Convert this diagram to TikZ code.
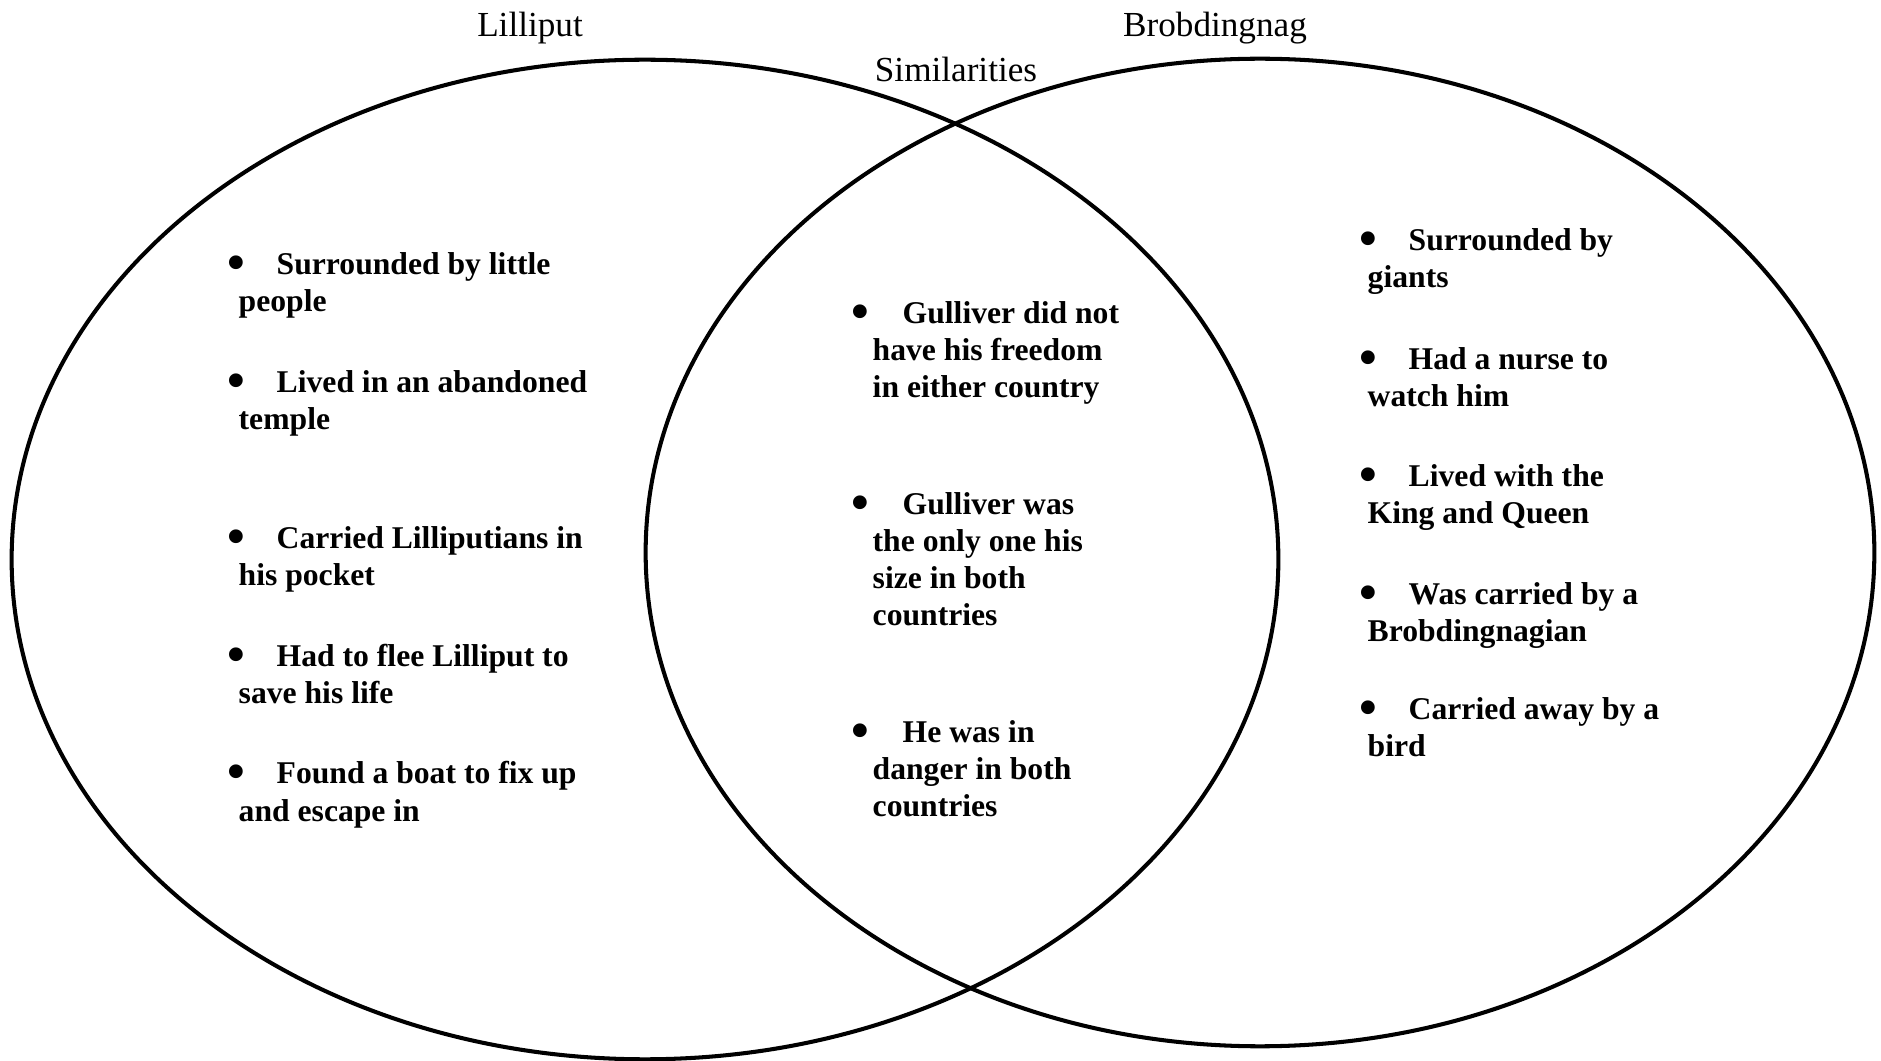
\documentclass[tikz,border=0pt]{standalone}
\usepackage{fontspec}
\setmainfont{Liberation Serif}
\usetikzlibrary{positioning}

% bullet mark, a bit larger than the text one
\newcommand{\bulglyph}{\raisebox{-1.2pt}{\scalebox{1.6}{\textbullet}}}
% #1 = bullet centre, #2 = text start (both from the left edge of the node)
\newcommand{\itm}[2]{\makebox[0pt][l]{\hspace*{#1}\makebox[0pt]{\bulglyph}}\hspace*{#2}}

\begin{document}
\begin{tikzpicture}[x=0.01cm, y=-0.01cm,
    entry/.style={anchor=base west, inner sep=0pt, align=left,
        font=\fontsize{9}{10.53}\selectfont\bfseries},
    heading/.style={anchor=base, inner sep=0pt, font=\fontsize{10}{12}\selectfont}]
\useasboundingbox (0,0) rectangle (1881,1061);

% the two sets
\draw[line width=1.15pt] (645,559.5) ellipse [x radius=6.33cm, y radius=4.995cm];
\draw[line width=1.15pt] (1260,552.5) ellipse [x radius=6.14cm, y radius=4.935cm];

\node[heading] (lil) at (530,37) {Lilliput};
\node[heading] (brob) at (1215,37) {Brobdingnag};
\node[heading] (sim) at (956,82) {Similarities};

% Lilliput only (positions = baseline of last line)
\node[entry] (l1) at (238,312) {\itm{-0.02cm}{0.38cm}Surrounded by little\\people};
\node[entry] (l2) at (238,430) {\itm{-0.02cm}{0.38cm}Lived in an abandoned\\temple};
\node[entry] (l3) at (238,586) {\itm{-0.02cm}{0.38cm}Carried Lilliputians in\\his pocket};
\node[entry] (l4) at (238,704) {\itm{-0.02cm}{0.38cm}Had to flee Lilliput to\\save his life};
\node[entry] (l5) at (238,821) {\itm{-0.02cm}{0.38cm}Found a boat to fix up\\and escape in};

% both
\node[entry] (s1) at (872,398) {\itm{-0.12cm}{0.30cm}Gulliver did not\\have his freedom\\in either country};
\node[entry] (s2) at (872,626) {\itm{-0.12cm}{0.30cm}Gulliver was\\the only one his\\size in both\\countries};
\node[entry] (s3) at (872,817) {\itm{-0.12cm}{0.30cm}He was in\\danger in both\\countries};

% Brobdingnag only
\node[entry] (b1) at (1367,288) {\itm{0.01cm}{0.41cm}Surrounded by\\giants};
\node[entry] (b2) at (1367,407) {\itm{0.01cm}{0.41cm}Had a nurse to\\watch him};
\node[entry] (b3) at (1367,524) {\itm{0.01cm}{0.41cm}Lived with the\\King and Queen};
\node[entry] (b4) at (1367,642) {\itm{0.01cm}{0.41cm}Was carried by a\\Brobdingnagian};
\node[entry] (b5) at (1367,757) {\itm{0.01cm}{0.41cm}Carried away by a\\bird};
\end{tikzpicture}
\end{document}
